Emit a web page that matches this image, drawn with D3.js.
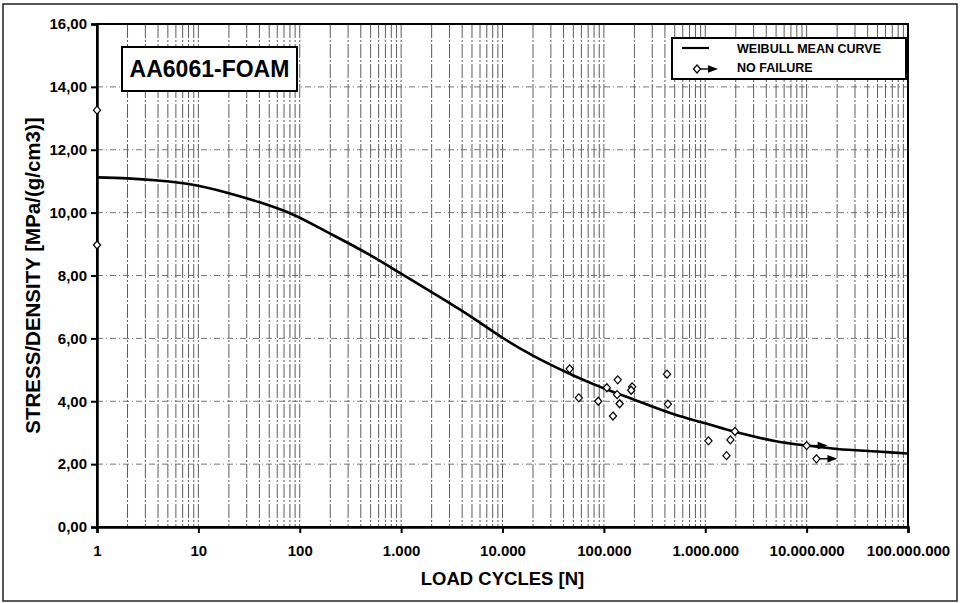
<!DOCTYPE html>
<html>
<head>
<meta charset="utf-8">
<script src="https://cdn.jsdelivr.net/npm/d3@7"></script>
<style>
    body { margin: 0; background: #fff; }
    svg { display: block; font-family: "Liberation Sans", Arial, sans-serif; }
</style>
</head>
<body>
<div id="chart"></div>
<script>
// Weibull mean curve
var CURVE_N = [1, 2, 4, 8, 20, 40, 80, 200, 500, 1000, 2000, 5000, 10000, 20000, 50000,
    100000, 200000, 500000, 1000000, 2000000, 5000000, 10000000, 20000000, 50000000, 100000000];
var CURVE_S = [11.12, 11.09, 11.02, 10.91, 10.62, 10.33, 9.98, 9.33, 8.64, 8.06, 7.47, 6.67,
    6.02, 5.45, 4.82, 4.41, 4.05, 3.58, 3.30, 3.02, 2.73, 2.59, 2.48, 2.40, 2.34];

// failures (open diamonds)
var FAIL_N = [1, 1, 46000, 56600, 88000, 107000, 137000, 135000, 143000, 123000, 190000,
    186000, 420000, 428000, 1075000, 1770000, 1620000, 1960000];
var FAIL_S = [13.26, 8.97, 5.03, 4.11, 4.00, 4.43, 4.68, 4.21, 3.92, 3.53, 4.46,
    4.35, 4.86, 3.91, 2.74, 2.77, 2.27, 3.04];

// run-outs (no failure, diamond + arrow)
var RUNOUT_N = [10000000, 12500000];
var RUNOUT_S = [2.59, 2.17];

var X_TICKS = [1, 10, 100, 1000, 10000, 100000, 1000000, 10000000, 100000000];
var Y_TICKS = [0, 2, 4, 6, 8, 10, 12, 14, 16];

var CHART_TITLE = "AA6061-FOAM";
var X_TITLE = "LOAD CYCLES [N]";
var Y_TITLE = "STRESS/DENSITY [MPa/(g/cm3)]";
var LEGEND_ITEMS = ["WEIBULL MEAN CURVE", "NO FAILURE"];

var W = 960, H = 603;
var MARGIN = { left: 97, right: 52, top: 24, bottom: 76 };

const renderChart = () => {
    let width = W - MARGIN.left - MARGIN.right;
    let height = H - MARGIN.top - MARGIN.bottom;

    let locale = d3.formatLocale({ decimal: ",", thousands: ".", grouping: [3], currency: ["", ""] });
    let fmtX = locale.format(",d");
    let fmtY = locale.format(".2f");

    let root = d3.select("#chart")
        .append("svg")
            .attr("width", W)
            .attr("height", H);

    // outer frame of the figure
    root.append("rect")
        .attr("x", 3).attr("y", 4)
        .attr("width", 954).attr("height", 597)
        .attr("fill", "none")
        .attr("stroke", "#222")
        .attr("stroke-width", 1.5);

    let svg = root.append("g")
        .attr("transform", "translate(" + MARGIN.left + "," + MARGIN.top + ")");

    let xScale = d3.scaleLog().domain([1, 1e8]).range([0, width]);
    let yScale = d3.scaleLinear().domain([0, 16]).range([height, 0]);

    // vertical grid at every 1..9 x 10^k
    let gridX = [];
    for (let k = 0; k < 8; k++) {
        for (let m = 1; m <= 9; m++) {
            let v = m * Math.pow(10, k);
            if (v > 1) gridX.push(v);
        }
    }
    svg.append("g")
        .selectAll("line")
        .data(gridX)
        .join("line")
            .attr("x1", d => xScale(d))
            .attr("x2", d => xScale(d))
            .attr("y1", 0)
            .attr("y2", height)
            .attr("stroke", "#4a4a4a")
            .attr("stroke-width", 0.9)
            .attr("stroke-dasharray", "14,2,2,2");

    // horizontal grid
    svg.append("g")
        .selectAll("line")
        .data(Y_TICKS.filter(d => d > 0 && d < 16))
        .join("line")
            .attr("x1", 0)
            .attr("x2", width)
            .attr("y1", d => yScale(d))
            .attr("y2", d => yScale(d))
            .attr("stroke", "#666")
            .attr("stroke-width", 0.9)
            .attr("stroke-dasharray", "6,3,1,3");

    // plot frame
    svg.append("rect")
        .attr("width", width)
        .attr("height", height)
        .attr("fill", "none")
        .attr("stroke", "#000")
        .attr("stroke-width", 2);

    // x axis
    let xAxis = svg.append("g")
        .attr("transform", "translate(0," + height + ")")
        .call(d3.axisBottom(xScale)
            .tickValues(X_TICKS)
            .tickFormat(fmtX)
            .tickSize(6)
            .tickPadding(12)
        );
    xAxis.select(".domain").attr("stroke-width", 2.5);
    xAxis.selectAll(".tick line").attr("stroke-width", 2);
    xAxis.selectAll(".tick text")
        .attr("font-size", "15")
        .attr("font-weight", "bold")
        .attr("font-family", "Liberation Sans, Arial, sans-serif")
        .attr("fill", "#000");

    // y axis
    let yAxis = svg.append("g")
        .call(d3.axisLeft(yScale)
            .tickValues(Y_TICKS)
            .tickFormat(fmtY)
            .tickSize(6)
            .tickPadding(4)
        );
    yAxis.select(".domain").attr("stroke-width", 2.5);
    yAxis.selectAll(".tick line").attr("stroke-width", 2);
    yAxis.selectAll(".tick text")
        .attr("font-size", "15")
        .attr("font-weight", "bold")
        .attr("font-family", "Liberation Sans, Arial, sans-serif")
        .attr("fill", "#000");

    // axis titles
    svg.append("text")
        .attr("x", width / 2)
        .attr("y", height + 58)
        .attr("text-anchor", "middle")
        .attr("font-size", "18.5")
        .attr("font-weight", "bold")
        .text(X_TITLE);
    svg.append("text")
        .attr("transform", "rotate(-90)")
        .attr("x", -(height / 2))
        .attr("y", -MARGIN.left + 40)
        .attr("text-anchor", "middle")
        .attr("font-size", "20.5")
        .attr("font-weight", "bold")
        .text(Y_TITLE);

    // Weibull mean curve
    let curvePts = CURVE_N.map((n, i) => [n, CURVE_S[i]]);
    svg.append("path")
        .datum(curvePts)
        .attr("fill", "none")
        .attr("stroke", "#000")
        .attr("stroke-width", 2.6)
        .attr("d", d3.line()
            .x(d => xScale(d[0]))
            .y(d => yScale(d[1]))
            .curve(d3.curveMonotoneX)
        );

    const diamond = (g, x, y) => {
        g.append("path")
            .attr("d", "M" + x + "," + (y - 4) + "L" + (x + 3.6) + "," + y +
                "L" + x + "," + (y + 4) + "L" + (x - 3.6) + "," + y + "Z")
            .attr("fill", "#fff")
            .attr("stroke", "#000")
            .attr("stroke-width", 1.2);
    }

    const arrow = (g, x, y) => {
        g.append("line")
            .attr("x1", x + 3).attr("x2", x + 12)
            .attr("y1", y).attr("y2", y)
            .attr("stroke", "#000")
            .attr("stroke-width", 1.4);
        g.append("path")
            .attr("d", "M" + (x + 11) + "," + (y - 3.8) + "L" + (x + 21) + "," + y +
                "L" + (x + 11) + "," + (y + 3.8) + "Z")
            .attr("fill", "#000");
    }

    let pts = svg.append("g");
    FAIL_N.forEach((n, i) => {
        diamond(pts, xScale(n), yScale(FAIL_S[i]));
    });
    RUNOUT_N.forEach((n, i) => {
        let x = xScale(n), y = yScale(RUNOUT_S[i]);
        arrow(pts, x, y);
        diamond(pts, x, y);
    });

    // title box
    let tb = svg.append("g").attr("transform", "translate(25,23)");
    tb.append("rect")
        .attr("width", 175)
        .attr("height", 44)
        .attr("fill", "#fff")
        .attr("stroke", "#000")
        .attr("stroke-width", 2);
    tb.append("text")
        .attr("x", 87.5)
        .attr("y", 30)
        .attr("text-anchor", "middle")
        .attr("font-size", "23")
        .attr("font-weight", "bold")
        .text(CHART_TITLE);

    // legend
    let lg = svg.append("g").attr("transform", "translate(575,14)");
    lg.append("rect")
        .attr("width", 234)
        .attr("height", 41)
        .attr("fill", "#fff")
        .attr("stroke", "#000")
        .attr("stroke-width", 2);
    lg.append("line")
        .attr("x1", 10).attr("x2", 37)
        .attr("y1", 10).attr("y2", 10)
        .attr("stroke", "#000")
        .attr("stroke-width", 2.2);
    arrow(lg, 25, 31);
    diamond(lg, 25, 31);
    LEGEND_ITEMS.forEach((label, i) => {
        lg.append("text")
            .attr("x", 65)
            .attr("y", 15 + i * 19)
            .attr("font-size", "12.5")
            .attr("font-weight", "bold")
            .text(label);
    });
}

renderChart();
</script>
</body>
</html>
